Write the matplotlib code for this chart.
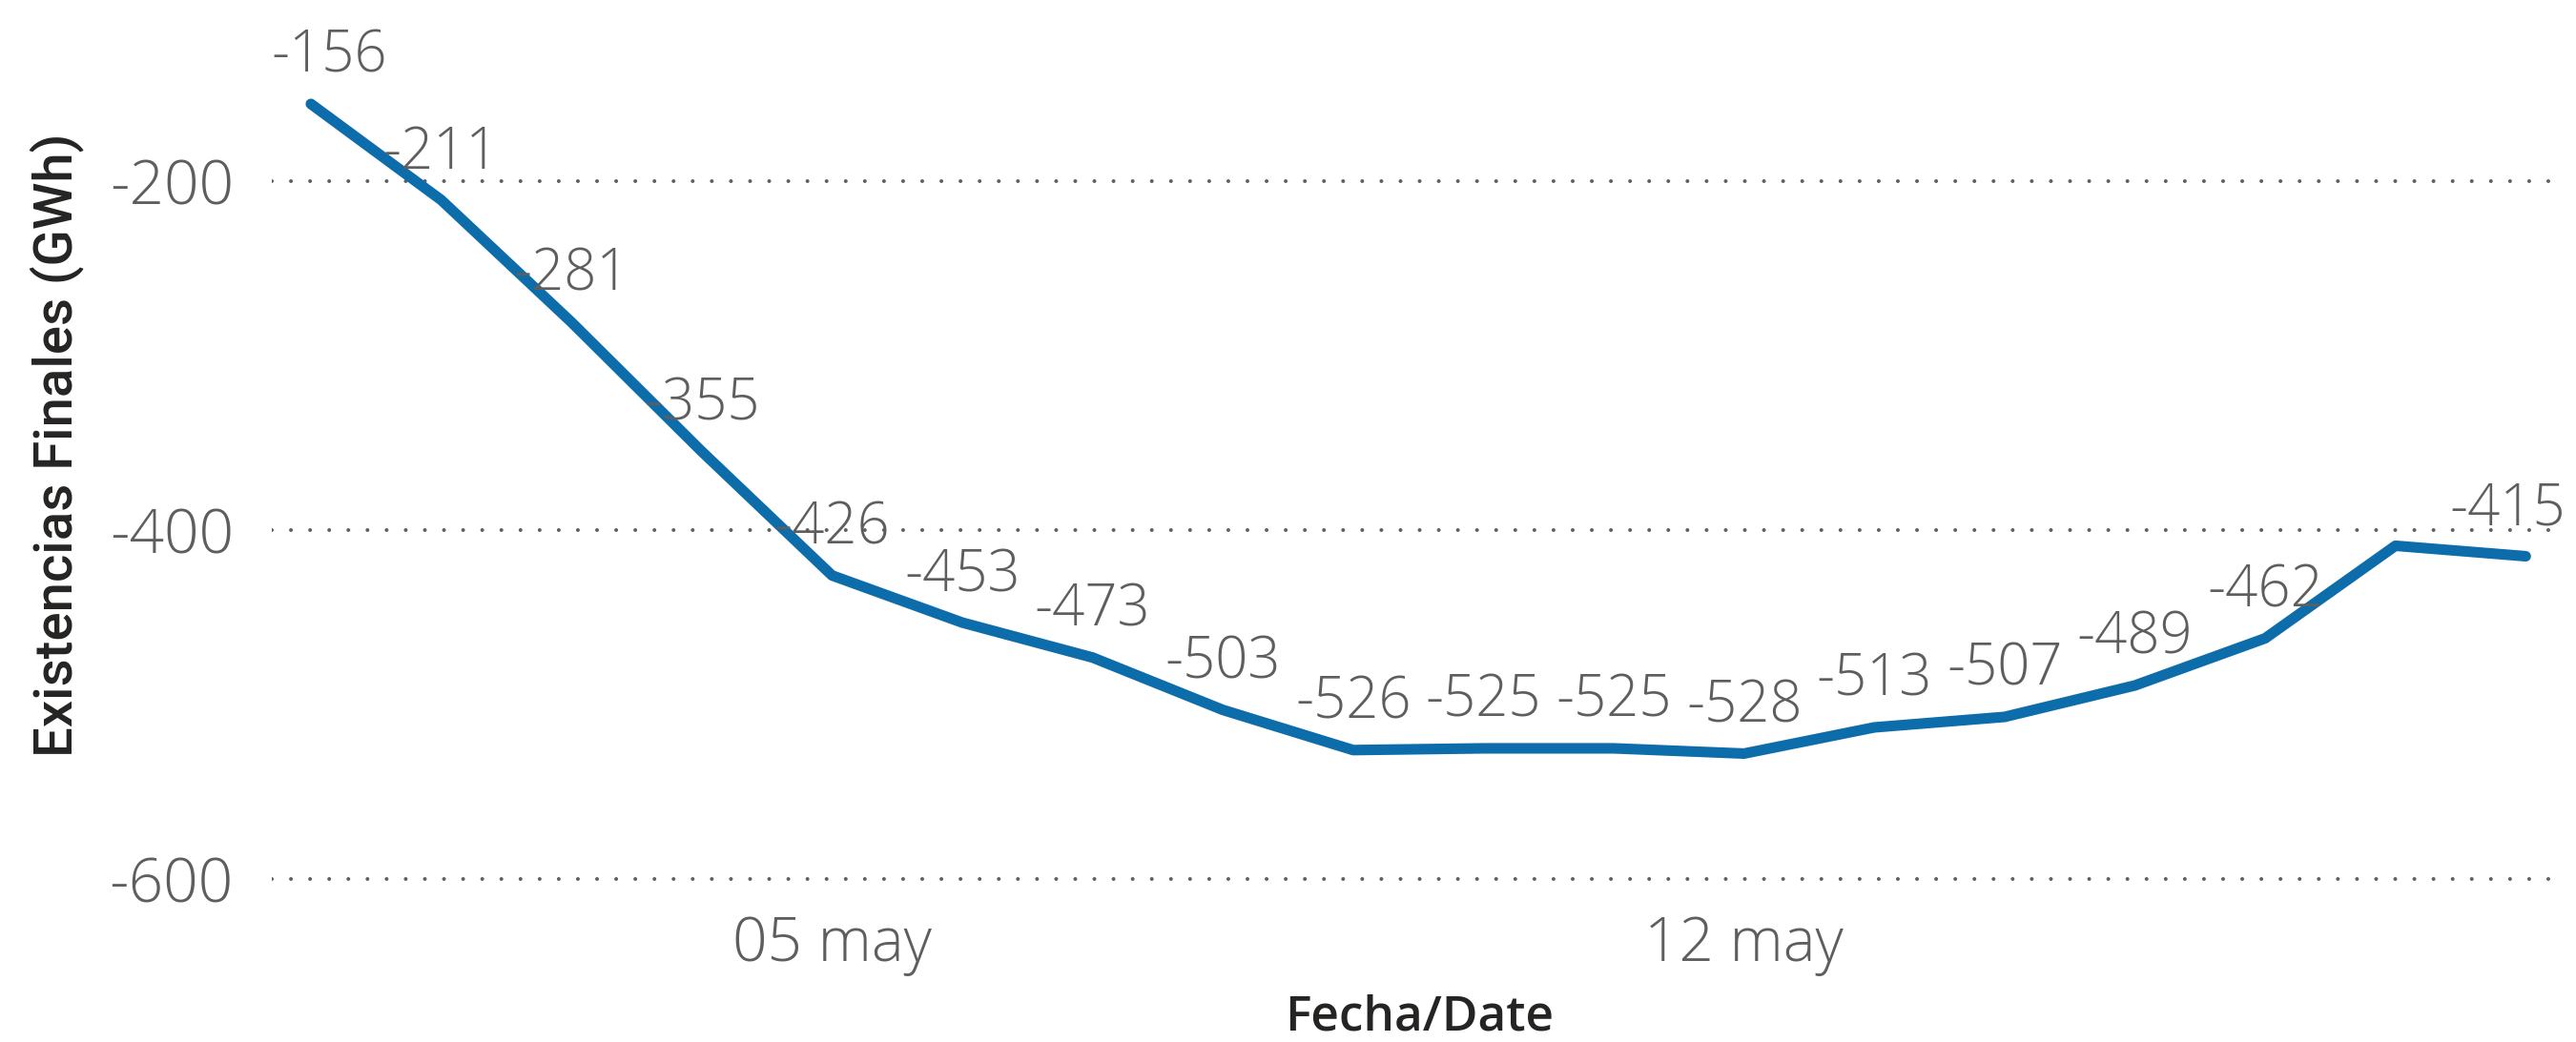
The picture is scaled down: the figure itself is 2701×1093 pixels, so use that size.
import matplotlib
matplotlib.use("Agg")
import matplotlib.pyplot as plt
import matplotlib.dates as mdates
from datetime import datetime

dates = ["2024-05-01", "2024-05-02", "2024-05-03", "2024-05-04", "2024-05-05",
         "2024-05-06", "2024-05-07", "2024-05-08", "2024-05-09", "2024-05-10",
         "2024-05-11", "2024-05-12", "2024-05-13", "2024-05-14", "2024-05-15",
         "2024-05-16", "2024-05-17", "2024-05-18"]
values = [-156, -211, -281, -355, -426, -453, -473, -503, -526, -525,
          -525, -528, -513, -507, -489, -462, -409, -415]
hidden_labels = [16]  # label not shown in reference (overlap)
yticks = [-200, -400, -600]
xtick_dates = ["2024-05-05", "2024-05-12"]
xtick_labels = ["05 may", "12 may"]

x = [datetime.strptime(d, "%Y-%m-%d") for d in dates]
xt = [datetime.strptime(d, "%Y-%m-%d") for d in xtick_dates]

W, H = 2701, 1093
fig = plt.figure(figsize=(W / 100, H / 100), dpi=100)
ax = fig.add_axes([285 / W, 0.1226, (2692 - 285) / W, 0.838])

line_color = "#0D6CAA"
label_color = "#605E5C"
num_font = ["Open Sans", "DejaVu Sans"]
TICK_SIZE = 46
LABEL_SIZE = 43

ax.plot(x, values, color=line_color, lw=8, solid_capstyle="round",
        solid_joinstyle="round", zorder=3)

n = len(values)
for i, (xi, v) in enumerate(zip(x, values)):
    if i in hidden_labels:
        continue
    dx, ha = 0, "center"
    if i == 0:
        dx = 14
    elif i == n - 1:
        dx, ha = 30, "right"
    ax.annotate(f"{v}", (xi, v), xytext=(dx, 13), textcoords="offset points",
                ha=ha, va="bottom", fontsize=LABEL_SIZE, color=label_color,
                family=num_font, fontweight="light", zorder=4,
                annotation_clip=False)

x0 = mdates.date2num(x[0])
ax.set_xlim(x0 - 0.30, mdates.date2num(x[-1]) + 0.32)
ax.set_ylim(-620, -120)

ax.set_yticks(yticks)
ax.set_yticklabels([str(t) for t in yticks], family=num_font, fontweight="light",
                   fontsize=TICK_SIZE, color=label_color)
ax.set_xticks(xt)
ax.set_xticklabels(xtick_labels, family=num_font, fontweight="light",
                   fontsize=TICK_SIZE, color=label_color)
ax.tick_params(axis="both", length=0)
ax.tick_params(axis="y", pad=29)
ax.tick_params(axis="x", pad=0)

for t in yticks:
    ax.axhline(t, color="#606060", lw=2.9, linestyle=(0, (0.01, 4.97)),
               dash_capstyle="round", zorder=1)

for s in ax.spines.values():
    s.set_visible(False)

ax.set_ylabel("Existencias Finales (GWh)", fontsize=40.5, color="#252423",
              family=["Roboto", "DejaVu Sans"], fontweight="medium")
ax.yaxis.set_label_coords(-0.082, 0.537)
ax.set_xlabel("Fecha/Date", fontsize=37, color="#252423",
              family=["Open Sans", "DejaVu Sans"], fontweight="semibold")
ax.xaxis.set_label_coords(0.5, -0.133)
ax.xaxis.label.set_va("baseline")

fig.savefig("out.png", dpi=100)
